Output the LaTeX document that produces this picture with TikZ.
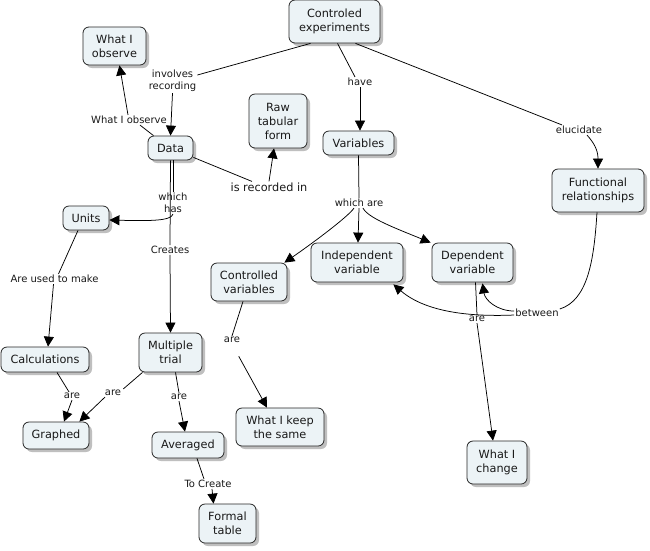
\documentclass[tikz,border=0pt]{standalone}
\usepackage{fontspec}
\setmainfont{DejaVu Sans}
\usetikzlibrary{arrows.meta,shadows}
\definecolor{boxfill}{RGB}{236,243,246}
\begin{document}
\begin{tikzpicture}[x=1pt,y=-1pt,
 concept/.style={draw=black!85, line width=0.8pt, fill=boxfill, rounded corners=6pt, align=center, inner sep=2pt,
   font=\fontsize{11.3}{14}\selectfont, text=black!90,
   drop shadow={shadow xshift=3pt, shadow yshift=-3pt, fill=black!45, opacity=0.55}},
 lbl/.style={align=center, inner sep=1pt, font=\fontsize{10}{12}\selectfont, text=black!90},
 biglbl/.style={align=center, inner sep=1pt, font=\fontsize{11.3}{14}\selectfont, text=black!90},
 link/.style={line width=0.75pt, draw=black},
 arr/.style={link, -{Triangle[length=10pt,width=10pt]}},
]
\fill[white] (0,0) rectangle (650,550);
\useasboundingbox (0,0) rectangle (650,550);

% concepts
\node[concept, minimum width=91pt, minimum height=43pt] (ce) at (334.5,21.5) {Controled\\experiments};
\node[concept, minimum width=63pt, minimum height=38pt] (wio) at (114.5,46) {What I\\observe};
\node[concept, minimum width=45pt, minimum height=24pt] (data) at (170.5,148) {Data};
\node[concept, minimum width=58pt, minimum height=54pt] (raw) at (278,121) {Raw\\tabular\\form};
\node[concept, minimum width=71pt, minimum height=24pt] (var) at (358.5,143) {Variables};
\node[concept, minimum width=92pt, minimum height=43pt] (fr) at (598,190.5) {Functional\\relationships};
\node[concept, minimum width=46pt, minimum height=24pt] (units) at (86,218) {Units};
\node[concept, minimum width=76pt, minimum height=38pt] (cv) at (249,282) {Controlled\\variables};
\node[concept, minimum width=92pt, minimum height=39pt] (iv) at (357,262.5) {Independent\\variable};
\node[concept, minimum width=81pt, minimum height=39pt] (dv) at (472.5,262.5) {Dependent\\variable};
\node[concept, minimum width=88pt, minimum height=25pt] (calc) at (45,359.5) {Calculations};
\node[concept, minimum width=63pt, minimum height=39pt] (mt) at (170.5,352.5) {Multiple\\trial};
\node[concept, minimum width=66pt, minimum height=27pt] (gr) at (56,435.5) {Graphed};
\node[concept, minimum width=72pt, minimum height=26pt] (avg) at (188,445) {Averaged};
\node[concept, minimum width=88pt, minimum height=38pt] (keep) at (280,427) {What I keep\\the same};
\node[concept, minimum width=57pt, minimum height=39pt] (ft) at (227.5,523.5) {Formal\\table};
\node[concept, minimum width=60pt, minimum height=43pt] (chg) at (497,462.5) {What I\\change};

% link labels
\node[lbl] (linv) at (172.5,81) {involves\\recording};
\node[lbl] (lobs) at (129,120) {What I observe};
\node[biglbl] (lrec) at (269,187) {is recorded in};
\node[lbl] (lhas) at (173,203) {which\\has};
\node[lbl] (lcre) at (170,250) {Creates};
\node[lbl] (lhave) at (360,82) {have};
\node[lbl] (lelu) at (579,130) {elucidate};
\node[lbl] (lwa) at (359,203) {which are};
\node[lbl] (lused) at (54.5,279) {Are used to make};
\node[lbl] (lareA) at (232,340) {are};
\node[lbl] (lbet) at (537,313) {between};
\node[lbl] (lareB) at (477,319) {are};
\node[lbl] (lareC) at (72,396) {are};
\node[lbl] (lareD) at (113,393) {are};
\node[lbl] (lareE) at (179,397) {are};
\node[lbl] (ltoc) at (208,484) {To Create};

% connectors
\draw[link] ([xshift=-24pt]ce.south) -- ([yshift=6pt]linv.east);
\draw[arr] (linv.south) -- (data.north);
\draw[link] ([xshift=-17pt]data.north) -- ([xshift=11pt]lobs.south);
\draw[arr] ([xshift=-1pt]lobs.north) -- ([xshift=5pt]wio.south);
\draw[link] ([yshift=3pt]data.south east) -- ([xshift=-17pt]lrec.north);
\draw[arr] (lrec.north) -- ([xshift=-4pt]raw.south);
\draw[link] ([xshift=2.5pt]data.south) -- (lhas.north);
\draw[arr] (lhas.south) .. controls (171,221) and (150,221) .. ([yshift=-2pt]units.east);
\draw[link] (data.south) -- (lcre.north);
\draw[arr] (lcre.south) -- (mt.north);
\draw[link] ([xshift=3pt]ce.south) -- ([xshift=-5pt]lhave.north);
\draw[arr] (lhave.south) -- ([xshift=1.5pt]var.north);
\draw[link] ([xshift=21pt]ce.south) -- ([xshift=-17pt]lelu.north);
\draw[arr] ([xshift=8pt]lelu.south) .. controls (594,143) and (598,150) .. (fr.north);
\draw[link] (var.south) -- (lwa.north);
\draw[arr] ([xshift=-5pt]lwa.south) .. controls (348,217) and (310,245) .. ([xshift=-3pt]cv.north east);
\draw[arr] (lwa.south) -- ([xshift=1pt]iv.north);
\draw[arr] ([xshift=4pt]lwa.south) .. controls (368,218) and (395,228) .. ([xshift=-1pt]dv.north west);
\draw[link] ([xshift=-1pt]fr.south) .. controls (594,260) and (588,300) .. ([yshift=4pt]lbet.east);
\draw[arr] ([yshift=-2pt]lbet.west) .. controls (445,318) and (415,303) .. ([xshift=-10pt,yshift=-2pt]iv.south east);
\draw[arr] ([yshift=2pt]lbet.west) .. controls (497,311) and (485,300) .. ([xshift=10pt,yshift=-1pt]dv.south);
\draw[link] ([xshift=3pt]dv.south) -- (lareB.north);
\draw[arr] (lareB.south) -- ([xshift=-4pt]chg.north);
\draw[link] ([xshift=-8pt]units.south) -- ([xshift=4pt]lused.north);
\draw[arr] ([xshift=-1pt]lused.south) -- ([xshift=3pt]calc.north);
\draw[link] ([xshift=-6pt]cv.south) -- (lareA.north);
\draw[arr, shorten <=14pt] (lareA.south) -- ([xshift=-13pt]keep.north);
\draw[link] ([xshift=12pt]calc.south) -- ([xshift=-3pt]lareC.north);
\draw[arr] (lareC.south) -- ([xshift=8pt]gr.north);
\draw[link] ([xshift=-28pt]mt.south) -- ([xshift=1pt]lareD.north east);
\draw[arr] ([xshift=-8pt]lareD.south) -- ([xshift=-10pt]gr.north east);
\draw[link] ([xshift=5pt]mt.south) -- (lareE.north);
\draw[arr] (lareE.south) -- ([xshift=-3pt]avg.north);
\draw[link] ([xshift=9pt]avg.south) -- ([xshift=-4pt]ltoc.north);
\draw[arr] ([xshift=4pt]ltoc.south) -- ([xshift=-14pt]ft.north);
\end{tikzpicture}
\end{document}
